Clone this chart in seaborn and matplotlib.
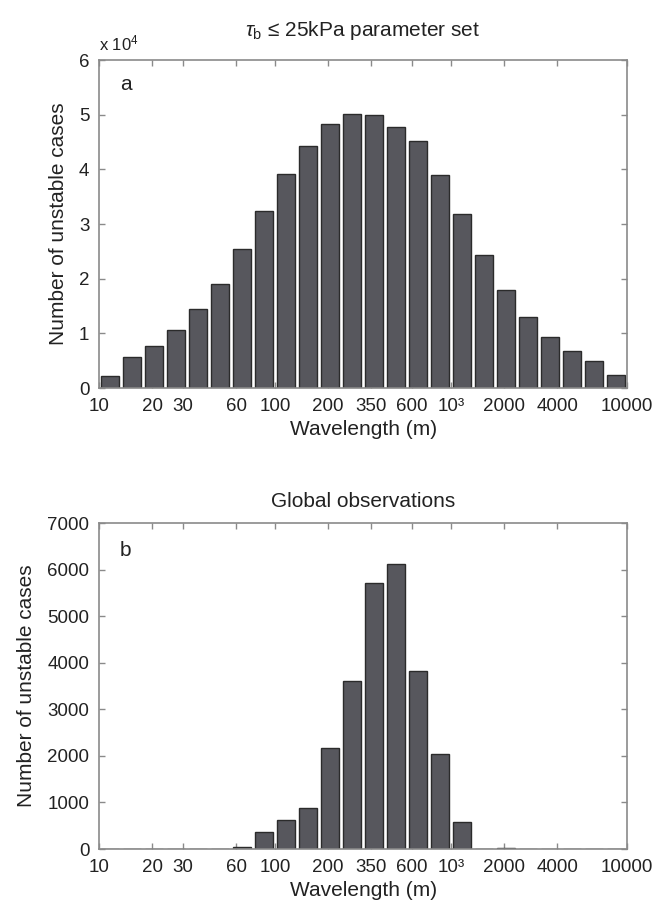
import numpy as np
import matplotlib
matplotlib.use("Agg")
import matplotlib.pyplot as plt
import seaborn as sns
from matplotlib.ticker import NullLocator

# wavelength bins: 24 log-spaced bins from 10 m to 10 km
bin_edges = np.logspace(1, 4, 25)
wavelength = np.sqrt(bin_edges[:-1] * bin_edges[1:])

# panel a: tau_b <= 25 kPa parameter set
counts_param = [2200, 5700, 7700, 10600, 14400, 19100, 25500, 32400, 39100, 44300,
                48300, 50100, 50000, 47800, 45200, 38900, 31900, 24300, 17900, 13000,
                9300, 6800, 4900, 2400]
# panel b: global observations
counts_obs = [0, 0, 0, 0, 0, 0, 40, 370, 620, 890, 2180, 3600, 5710, 6130, 3830,
              2040, 590, 0, 25, 0, 0, 0, 0, 0]

xtick_vals = [10, 20, 30, 60, 100, 200, 350, 600, 1000, 2000, 4000, 10000]
xtick_labels = ["10", "20", "30", "60", "100", "200", "350", "600", "10³", "2000", "4000", "10000"]

sns.set_style("ticks")
plt.rcParams["font.family"] = ["Liberation Sans", "DejaVu Sans"]
plt.rcParams["mathtext.fontset"] = "custom"
plt.rcParams["mathtext.rm"] = "Liberation Sans"
plt.rcParams["mathtext.it"] = "Liberation Sans:italic"

fig = plt.figure(figsize=(6.56, 9.10), dpi=100)
ax_a = fig.add_axes([0.151, 0.5736, 0.805, 0.3604])
ax_b = fig.add_axes([0.151, 0.067, 0.805, 0.358])

bar_kw = dict(log_scale=True, binwidth=0.125, binrange=(1, 4), shrink=0.82,
              color="#57575d", edgecolor="#2b2b2b", linewidth=1, alpha=1)

sns.histplot(x=wavelength, weights=counts_param, ax=ax_a, **bar_kw)
sns.histplot(x=wavelength, weights=counts_obs, ax=ax_b, **bar_kw)

spine_col = "#8a8a8a"
for ax in (ax_a, ax_b):
    ax.set_xlim(10, 10000)
    ax.set_xticks(xtick_vals)
    ax.set_xticklabels(xtick_labels)
    ax.xaxis.set_minor_locator(NullLocator())
    ax.tick_params(direction="in", top=True, right=True, length=4, width=1,
                   color=spine_col, labelsize=13.5, pad=7, labelcolor="#222222")
    for s in ax.spines.values():
        s.set_color(spine_col)
        s.set_linewidth(1.2)
        s.set_visible(True)
    ax.set_xlabel("Wavelength (m)", fontsize=15, labelpad=4, color="#222222")
    ax.set_ylabel("Number of unstable cases", fontsize=15, labelpad=8, color="#222222")

ax_a.set_ylim(0, 60000)
ax_a.set_yticks([0, 10000, 20000, 30000, 40000, 50000, 60000])
ax_a.set_yticklabels(["0", "1", "2", "3", "4", "5", "6"])
ax_a.text(0.0, 1.02, r"x 10$^4$", transform=ax_a.transAxes, ha="left", va="bottom",
          fontsize=12, color="#222222")
ax_a.text(0.04, 0.925, "a", transform=ax_a.transAxes, ha="left", va="center",
          fontsize=15, color="#222222")
ax_a.set_title(r"$\tau_\mathrm{b}$ ≤ 25kPa parameter set", fontsize=15, pad=17,
               color="#222222")

ax_b.set_ylim(0, 7000)
ax_b.set_yticks(range(0, 7001, 1000))
ax_b.text(0.04, 0.917, "b", transform=ax_b.transAxes, ha="left", va="center",
          fontsize=15, color="#222222")
ax_b.set_title("Global observations", fontsize=15, pad=12, color="#222222")

fig.savefig("out.png", dpi=100)
